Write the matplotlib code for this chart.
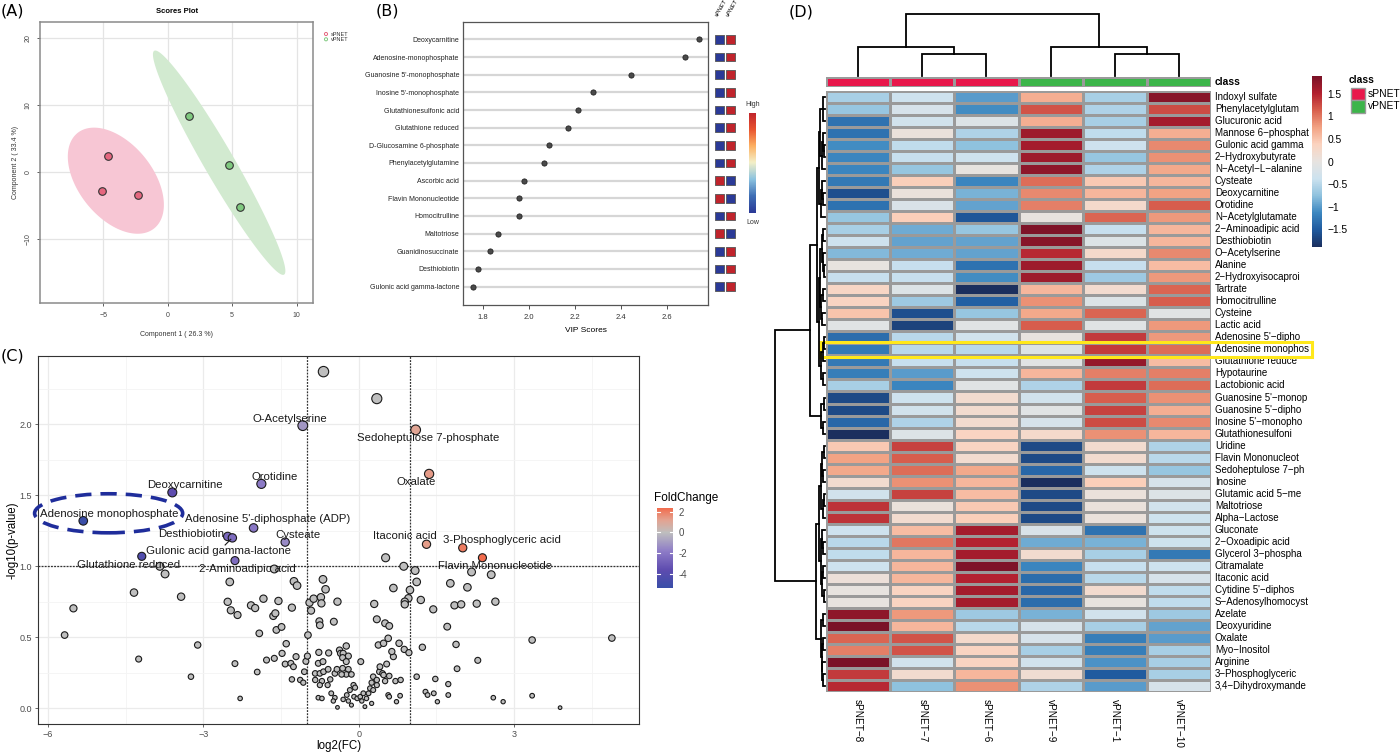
import numpy as np
import matplotlib
matplotlib.use("Agg")
import matplotlib.pyplot as plt
from matplotlib.colors import LinearSegmentedColormap, Normalize, ListedColormap
from matplotlib.patches import Ellipse, Rectangle

plt.rcParams['font.family'] = ['Liberation Sans', 'DejaVu Sans']

# ---------------- Panel A data (PLS-DA scores) ----------------
pca_group = ['sPNET', 'sPNET', 'sPNET', 'vPNET', 'vPNET', 'vPNET']
pca_comp1 = [-4.65, -5.12, -2.28, 1.63, 4.73, 5.63]
pca_comp2 = [2.4, -2.84, -3.5, 8.36, 1.05, -5.3]

# ---------------- Panel B data (VIP scores) ----------------
vip_names = ['Deoxycarnitine', 'Adenosine-monophosphate', "Guanosine 5'-monophosphate",
             "Inosine 5'-monophosphate", 'Glutathionesulfonic acid', 'Glutathione reduced',
             'D-Glucosamine 6-phosphate', 'Phenylacetylglutamine', 'Ascorbic acid',
             'Flavin Mononucleotide', 'Homocitrulline', 'Maltotriose', 'Guanidinosuccinate',
             'Desthiobiotin', 'Gulonic acid gamma-lactone']
vip_scores = [2.74, 2.677, 2.445, 2.28, 2.216, 2.17, 2.09, 2.067, 1.98, 1.96, 1.96,
              1.868, 1.833, 1.78, 1.757]
vip_spnet_high = [0, 0, 0, 0, 0, 0, 0, 0, 1, 1, 0, 1, 0, 0, 0]

# ---------------- Panel C data (volcano) ----------------
sig_names = ['O-Acetylserine', 'Sedoheptulose 7-phosphate', 'Orotidine', 'Oxalate',
             'Deoxycarnitine', 'Adenosine monophosphate', "Adenosine 5'-diphosphate (ADP)",
             'Desthiobiotin', 'Gulonic acid gamma-lactone', 'Cysteate', 'Itaconic acid',
             '3-Phosphoglyceric acid', 'Glutathione reduced', 'Flavin Mononucleotide',
             '2-Aminoadipic acid']
sig_log2fc = [-1.08, 1.10, -1.88, 1.36, -3.60, -5.32, -2.03, -2.53, -2.44, -1.42, 1.31,
              2.01, -4.19, 2.39, -2.39]
sig_logp = [1.99, 1.96, 1.58, 1.65, 1.52, 1.32, 1.27, 1.21, 1.20, 1.17, 1.155, 1.13,
            1.07, 1.06, 1.04]

ns_log2fc = [-0.68, 0.35, 0.52, -3.84, -3.74, -4.34, -3.43, -5.51, -5.68, -4.25, -3.11, -3.24,
             -2.29, -2.39, -1.96, -2.49, -2.53, -2.47, -2.34, -2.08, -2.0, -1.84, -1.92, -1.65,
             -1.61, -1.55, -1.59, -1.49, -1.40, -1.63, -1.78, -1.48, -1.42, -1.31, -1.26, -1.21,
             -1.29, -1.13, -1.07, -1.05, -1.02, -0.99, -0.98, -1.29, -1.25, -1.19, -1.63,
             -0.95, -0.92, -0.87, -0.73, -0.72, -0.69, -0.64, -0.41, -0.76, -0.75, -0.48, -0.77,
             -0.58, -0.78, -0.69, -0.84, -0.75, -0.68, -0.59, -0.84, -0.71, -0.55, -0.46, -0.42,
             -0.75, -0.6, -0.78, -0.71, -0.53, -0.46, -0.49, -0.41,
             -0.37, -0.35, -0.24, -0.30, -0.20, -0.31, -0.24, -0.31, -0.20, -0.24, -0.33, -0.14,
             -0.10, -0.07, -0.17, -0.23, -0.30, -0.20, -0.14, -0.09, -0.03, 0.03, 0.06, 0.12,
             0.15, 0.04, 0.09, 0.19, 0.22, 0.28, 0.25, 0.35, 0.28, 0.35, 0.40, 0.46, 0.41, 0.54,
             0.51, 0.57, 0.71, 0.38, 0.48, 0.57, 0.67, 0.64, 0.35, 0.51, 0.59, 0.30, 0.67, 0.25,
             0.87, 1.09, 1.12, 0.99, 0.96, 0.89, 0.89, 1.20, 1.44, 1.77, 2.10, 2.18, 2.56, 1.85,
             1.98, 2.28, 2.64, 1.71, 0.78, 0.88, 0.97, 1.23, 1.88, 3.35, 4.89, 2.30, 1.90, 0.59,
             0.48, 0.81, 1.12, 1.48, 1.73, 1.29, 1.33, 1.45, 1.73, 1.52, 0.59, 0.80, 0.73, 2.60,
             2.79, 3.35, 3.89]
ns_logp = [2.37, 2.18, 1.06, 1.0, 0.946, 0.815, 0.786, 0.704, 0.516, 0.347, 0.446, 0.223,
           0.07, 0.315, 0.256, 0.89, 0.75, 0.69, 0.657, 0.725, 0.706, 0.772, 0.528, 0.65,
           0.669, 0.756, 0.552, 0.573, 0.455, 0.352, 0.34, 0.387, 0.312, 0.317, 0.293, 0.364,
           0.204, 0.2, 0.181, 0.258, 0.331, 0.368, 0.516, 0.709, 0.894, 0.864, 0.981,
           0.744, 0.688, 0.772, 0.782, 0.739, 0.908, 0.838, 0.751, 0.613, 0.585, 0.61, 0.394,
           0.39, 0.317, 0.329, 0.246, 0.246, 0.258, 0.275, 0.2, 0.192, 0.204, 0.246, 0.275,
           0.164, 0.164, 0.075, 0.07, 0.106, 0.075, 0.052, 0.007,
           0.41, 0.387, 0.439, 0.387, 0.368, 0.357, 0.329, 0.282, 0.275, 0.239, 0.239, 0.239,
           0.164, 0.146, 0.129, 0.094, 0.063, 0.052, 0.023, 0.082, 0.07, 0.082, 0.052, 0.012,
           0.07, 0.329, 0.106, 0.106, 0.141, 0.129, 0.181, 0.164, 0.223, 0.2, 0.258, 0.246,
           0.293, 0.312, 0.192, 0.094, 0.192, 0.446, 0.458, 0.493, 0.364, 0.4, 0.627, 0.599,
           0.58, 0.735, 0.847, 0.035,
           1.0, 0.97, 0.89, 0.833, 0.775, 0.751, 0.732, 0.763, 0.697, 0.88, 0.852, 0.96, 0.941,
           0.725, 0.732, 0.737, 0.751, 0.575, 0.458, 0.415, 0.392, 0.43, 0.45, 0.481, 0.495,
           0.338, 0.279, 0.228, 0.235, 0.2, 0.223, 0.207, 0.171, 0.117, 0.094, 0.106, 0.094,
           0.047, 0.082, 0.089, 0.047, 0.075, 0.047, 0.089, 0.005]

# ---------------- Panel D data (heatmap) ----------------
heat_rows = ['Indoxyl sulfate', 'Phenylacetylglutam', 'Glucuronic acid', 'Mannose 6\u2212phosphat',
             'Gulonic acid gamma', '2\u2212Hydroxybutyrate', 'N\u2212Acetyl\u2212L\u2212alanine', 'Cysteate',
             'Deoxycarnitine', 'Orotidine', 'N\u2212Acetylglutamate', '2\u2212Aminoadipic acid',
             'Desthiobiotin', 'O\u2212Acetylserine', 'Alanine', '2\u2212Hydroxyisocaproi', 'Tartrate',
             'Homocitrulline', 'Cysteine', 'Lactic acid', "Adenosine 5'\u2212dipho",
             'Adenosine monophos', 'Glutathione reduce', 'Hypotaurine', 'Lactobionic acid',
             "Guanosine 5'\u2212monop", "Guanosine 5'\u2212dipho", "Inosine 5'\u2212monopho",
             'Glutathionesulfoni', 'Uridine', 'Flavin Mononucleot', 'Sedoheptulose 7\u2212ph',
             'Inosine', 'Glutamic acid 5\u2212me', 'Maltotriose', 'Alpha\u2212Lactose', 'Gluconate',
             '2\u2212Oxoadipic acid', 'Glycerol 3\u2212phospha', 'Citramalate', 'Itaconic acid',
             "Cytidine 5'\u2212diphos", 'S\u2212Adenosylhomocyst', 'Azelate', 'Deoxyuridine',
             'Oxalate', 'Myo\u2212Inositol', 'Arginine', '3\u2212Phosphoglyceric',
             '3,4\u2212Dihydroxymande']
heat_cols = ['sPNET\u22128', 'sPNET\u22127', 'sPNET\u22126', 'vPNET\u22129', 'vPNET\u22121', 'vPNET\u221210']
heat_class = ['sPNET', 'sPNET', 'sPNET', 'vPNET', 'vPNET', 'vPNET']
sPNET_8 = [-0.6, -0.7, -1.3, -1.3, -1.1,
           -1.15, -1.15, -1.25, -1.6, -1.3,
           -0.7, -0.6, -0.35, -0.8, 0.0,
           -0.4, 0.3, 0.35, 0.5, -0.1,
           -1.35, -1.25, -1.25, -1.2, -0.6,
           -1.65, -1.65, -1.4, -2.0, 0.45,
           0.75, 0.7, 0.2, -0.3, 1.4,
           1.4, -0.35, -0.5, -0.45, -0.35,
           0.1, 0.0, 0.0, 1.75, 1.95,
           1.1, 0.95, 1.95, 1.35, 1.45]
sPNET_7 = [-0.35, -0.25, -0.3, 0.05, -0.45,
           -0.4, -0.7, 0.4, 0.05, -0.2,
           0.4, -0.9, -0.95, -0.9, -0.4,
           -0.4, -0.15, -0.65, -1.6, -1.7,
           -0.5, -0.5, -0.4, -1.0, -1.15,
           -0.35, -0.3, -0.55, -0.15, 1.3,
           1.15, 1.05, 0.85, 1.3, 0.05,
           0.2, 0.55, 1.0, 0.6, 0.6,
           0.6, 0.35, 0.35, 0.8, 0.6,
           1.2, 1.2, -0.3, 0.2, -0.75]
sPNET_6 = [-1.0, -1.1, -0.15, -0.55, -0.75,
           -0.35, 0.0, -1.15, -0.85, -0.95,
           -1.55, -0.7, -0.95, -0.95, -1.3,
           -1.1, -2.0, -1.45, -0.7, -0.1,
           -0.3, -0.5, -0.4, -0.35, -0.1,
           0.2, 0.2, 0.2, 0.35, 0.35,
           0.2, 0.7, 0.6, 0.55, 0.45,
           0.4, 1.6, 1.5, 1.6, 1.85,
           1.5, 1.6, 1.6, -0.65, -0.5,
           0.25, 0.35, 0.35, 0.6, 0.85]
vPNET_9 = [0.65, 1.2, 0.65, 1.65, 1.6,
           1.65, 1.75, 1.05, 0.9, 0.95,
           0.0, 1.85, 1.8, 1.45, 1.65,
           1.65, 0.6, 0.85, 0.7, 1.15,
           0.0, -0.15, -0.1, 0.6, -0.55,
           -0.3, -0.1, -0.25, 0.25, -1.65,
           -1.65, -1.4, -1.95, -1.65, -1.65,
           -1.65, -0.2, -0.9, 0.2, -1.15,
           -1.35, -1.4, -1.35, -0.85, -0.25,
           -0.25, -0.6, -0.3, 0.15, -0.55]
vPNET_1 = [-0.6, -0.55, -0.6, -0.45, -0.35,
           -0.7, -0.55, 0.45, 0.6, 0.25,
           1.1, -0.4, -0.15, 0.25, -0.4,
           -0.65, 0.2, -0.15, 1.1, -0.1,
           1.35, 1.35, 1.7, 0.95, 1.35,
           1.15, 1.3, 1.25, 0.85, 0.2,
           0.2, -0.35, 0.4, 0.05, 0.05,
           0.05, -1.3, -0.85, -0.6, -0.4,
           -0.5, 0.2, 0.0, -0.3, -0.6,
           -1.2, -1.2, -1.05, -1.5, -1.0]
vPNET_10 = [1.8, 1.25, 1.6, 0.65, 0.9,
            0.85, 0.7, 0.6, 0.75, 1.15,
            0.8, 0.6, 0.6, 0.9, 0.55,
            0.8, 1.1, 1.15, -0.1, 0.8,
            0.8, 1.05, 0.55, 0.95, 1.05,
            0.85, 0.65, 0.9, 0.6, -0.55,
            -0.5, -0.7, -0.25, -0.15, -0.3,
            -0.35, -0.35, -0.35, -1.25, -0.35,
            -0.25, -0.45, -0.45, -0.65, -0.95,
            -1.0, -0.6, -0.6, -0.6, -0.25]

# dendrogram structures (leaf index, leaf index, merge height)
col_tree = ((0, (1, 2, 7.0), 9.5), (3, (4, 5, 7.0), 9.5), 20.3)
row_tree = (
    (
        (
            ((((0, 2, 0.5), 1, 0.7), ((3, (4, 5, 0.3), 0.5), 6, 0.7), 1.0),
             ((7, (8, 9, 0.4), 0.6), 10, 0.9), 1.2),
            ((((11, 12, 0.4), (13, (14, 15, 0.3), 0.5), 0.7),
              ((16, 17, 0.5), (18, 19, 0.6), 0.9), 1.1),
             (((20, 21, 0.3), 22, 0.5), (23, 24, 0.5), 0.8), 1.3),
            1.6),
        ((25, 26, 0.3), (27, 28, 0.5), 0.8),
        3.1),
    (
        ((((29, 30, 0.3), (31, 32, 0.5), 0.7), ((33, 34, 0.3), 35, 0.5), 0.9),
         ((36, (37, 38, 0.4), 0.6), ((39, 40, 0.4), (41, 42, 0.3), 0.6), 0.9), 1.3),
        ((43, 44, 0.5), ((45, 46, 0.4), (47, (48, 49, 0.4), 0.6), 0.7), 0.9),
        1.9),
    10.0)

# ======================================================================
W, H = 1400, 754
fig = plt.figure(figsize=(14, 7.54), dpi=100)


def box(l, t, r, b):
    return [l / W, 1 - b / H, (r - l) / W, (b - t) / H]


ov = fig.add_axes([0, 0, 1, 1])
ov.set_xlim(0, W)
ov.set_ylim(H, 0)
ov.axis('off')

for lab, (x, y) in {'(A)': (1, 11), '(B)': (376, 11), '(C)': (1, 356), '(D)': (789, 12)}.items():
    ov.text(x, y, lab, fontsize=11.5, va='center', ha='left', family=['DejaVu Sans'])

# ---------------- Panel A ----------------
axA = fig.add_axes(box(40, 21.7, 313.3, 303.3))
axA.set_xlim(-9.9, 11.3)
axA.set_ylim(-19.6, 22.4)
axA.set_xticks([-5, 0, 5, 10])
axA.set_yticks([-10, 0, 10, 20])
axA.grid(True, color='#E4E4E4', lw=0.9)
axA.set_axisbelow(True)
conf = np.sqrt(-2 * np.log(1 - 0.95))
grp_style = {'sPNET': ('#F7C6D4', '#E5677F'), 'vPNET': ('#D2EAD0', '#7FC97F')}
px = np.array(pca_comp1)
py = np.array(pca_comp2)
pg = np.array(pca_group)
t = np.linspace(0, 2 * np.pi, 200)
for g, (fill, ptc) in grp_style.items():
    m = pg == g
    xs, ys = px[m], py[m]
    cov = np.cov(xs, ys)
    vals, vecs = np.linalg.eigh(cov)
    circ = np.vstack([np.cos(t), np.sin(t)])
    e = vecs @ (np.sqrt(np.maximum(vals, 0))[:, None] * circ) * conf
    axA.fill(e[0] + xs.mean(), e[1] + ys.mean(), color=fill, lw=0, zorder=1)
    axA.scatter(xs, ys, s=30, color=ptc, edgecolor='#333333', lw=0.8, zorder=3)
for s in axA.spines.values():
    s.set_color('#8A8A8A')
    s.set_linewidth(1.1)
axA.tick_params(labelsize=5, colors='#444444', length=2.5, width=0.6)
for lab in axA.get_yticklabels():
    lab.set_rotation(90)
    lab.set_va('center')
axA.set_xlabel('Component 1 ( 26.3 %)', fontsize=5, labelpad=9, color='#333333')
axA.set_ylabel('Component 2 ( 33.4 %)', fontsize=5, labelpad=4, color='#333333')
axA.set_title('Scores Plot', fontsize=5.5, fontweight='bold', pad=6)
for i, (g, c) in enumerate([('sPNET', '#E5677F'), ('vPNET', '#7FC97F')]):
    ov.scatter([326], [34 + 5.3 * i], s=5, facecolor='none', edgecolor=c, lw=0.7)
    ov.text(331, 34 + 5.3 * i, g, fontsize=4, va='center', color='#333333')

# ---------------- Panel B ----------------
nB = len(vip_names)
yB = np.arange(nB)
axB = fig.add_axes(box(463.3, 21.7, 708.3, 305))
axB.set_xlim(1.716, 2.78)
axB.set_ylim(nB - 1 + 1.04, -1.0)
for y in yB:
    axB.axhline(y, color='#D6D6D6', lw=1.6, zorder=0)
axB.scatter(vip_scores, yB, s=14, color='#4A4A4A', edgecolor='#222222', lw=0.6, zorder=3)
axB.set_yticks(yB)
axB.set_yticklabels(vip_names, fontsize=5, color='#222222')
axB.tick_params(axis='y', length=0, pad=3)
axB.set_xticks([1.8, 2.0, 2.2, 2.4, 2.6])
axB.tick_params(axis='x', labelsize=5.5, length=3, width=0.6, colors='#333333')
axB.set_xlabel('VIP Scores', fontsize=6, labelpad=4)
for s in axB.spines.values():
    s.set_color('#555555')
    s.set_linewidth(0.9)

vip_cmap = LinearSegmentedColormap.from_list(
    'vip', ['#2B3A97', '#3F6FB5', '#8CC3E0', '#F4F0C8', '#FDB062', '#E8532F', '#C0242C'])
axBs = fig.add_axes(box(712, 21.7, 738, 305))
axBs.set_xlim(-0.7, 1.7)
axBs.set_ylim(nB - 1 + 1.04, -1.0)
axBs.axis('off')
hi = np.array(vip_spnet_high, dtype=float)
axBs.scatter(np.zeros(nB), yB, marker='s', s=40, c=vip_cmap(hi), edgecolor='#555555', lw=0.6)
axBs.scatter(np.ones(nB), yB, marker='s', s=40, c=vip_cmap(1 - hi), edgecolor='#555555', lw=0.6)
for j, g in enumerate(['sPNET', 'vPNET']):
    axBs.text(j - 0.1, -1.25, g, rotation=60, fontsize=4.3, ha='left', va='bottom',
              rotation_mode='anchor', clip_on=False, style='italic')
axBc = fig.add_axes(box(749.3, 112.7, 756, 213.3))
axBc.imshow(np.linspace(1, 0, 100)[:, None], aspect='auto', cmap=vip_cmap)
axBc.set_xticks([])
axBc.set_yticks([])
for s in axBc.spines.values():
    s.set_visible(False)
ov.text(752.5, 104, 'High', fontsize=5, ha='center', va='center', color='#333333')
ov.text(752.5, 222.5, 'Low', fontsize=5, ha='center', va='center', color='#333333')

# ---------------- Panel C ----------------
axC = fig.add_axes(box(37.7, 356, 639.3, 724))
axC.set_xlim(-6.2, 5.42)
axC.set_ylim(-0.11, 2.48)
axC.set_xticks([-6, -3, 0, 3])
axC.set_yticks([0.0, 0.5, 1.0, 1.5, 2.0])
axC.set_yticklabels(['0.0', '0.5', '1.0', '1.5', '2.0'])
axC.set_xticks([-4.5, -1.5, 1.5, 4.5], minor=True)
axC.set_yticks([0.25, 0.75, 1.25, 1.75, 2.25], minor=True)
axC.grid(True, which='major', color='#EBEBEB', lw=0.9)
axC.grid(True, which='minor', color='#F4F4F4', lw=0.6)
axC.tick_params(which='minor', length=0)
axC.tick_params(which='major', labelsize=6.5, colors='#4D4D4D', length=2.5, width=0.6, pad=1.5)
axC.set_axisbelow(True)
for s in axC.spines.values():
    s.set_color('#333333')
    s.set_linewidth(0.8)
axC.axvline(-1, color='#333333', lw=0.9, ls=(0, (1.5, 1)), zorder=1)
axC.axvline(1, color='#333333', lw=0.9, ls=(0, (1.5, 1)), zorder=1)
axC.axhline(1, color='#333333', lw=0.9, ls=(0, (1.5, 1)), zorder=1)
axC.set_xlabel('log2(FC)', fontsize=8.3, labelpad=1)
axC.set_ylabel('-log10(p-value)', fontsize=8.3, labelpad=1)


def psize(v):
    d = 3.3 + 4.6 * np.sqrt(np.clip(np.asarray(v, dtype=float), 0, None))
    return (d * 0.72) ** 2


fc_lo, fc_hi = min(sig_log2fc), max(sig_log2fc)


def fc_frac(v):
    return (v - fc_lo) / (fc_hi - fc_lo)


fc_cmap = LinearSegmentedColormap.from_list(
    'fc', [(0.0, '#3A4EA8'), (fc_frac(-3.6), '#5E4CAF'), (fc_frac(-1.8), '#8E7CC7'),
           (fc_frac(0.0), '#BEBEBE'), (fc_frac(1.2), '#E3A391'), (1.0, '#F26B4C')])
fc_norm = Normalize(vmin=fc_lo, vmax=fc_hi)
axC.scatter(ns_log2fc, ns_logp, s=psize(ns_logp), color='#BFBFBF', edgecolor='#1A1A1A',
            lw=0.8, zorder=3)
axC.scatter(sig_log2fc, sig_logp, s=psize(sig_logp), c=sig_log2fc, cmap=fc_cmap,
            norm=fc_norm, edgecolor='#1A1A1A', lw=0.8, zorder=4)

label_pos = {
    'O-Acetylserine': (-1.33, 2.04), 'Sedoheptulose 7-phosphate': (1.34, 1.90),
    'Orotidine': (-1.63, 1.63), 'Oxalate': (1.12, 1.59), 'Deoxycarnitine': (-3.35, 1.57),
    'Adenosine monophosphate': (-4.81, 1.37), "Adenosine 5'-diphosphate (ADP)": (-1.76, 1.33),
    'Desthiobiotin': (-3.24, 1.23), 'Gulonic acid gamma-lactone': (-2.71, 1.11),
    'Cysteate': (-1.18, 1.22), 'Itaconic acid': (0.89, 1.21),
    '3-Phosphoglyceric acid': (2.77, 1.185), 'Glutathione reduced': (-4.45, 1.01),
    'Flavin Mononucleotide': (2.63, 1.0), '2-Aminoadipic acid': (-2.15, 0.98)}
for nm, fcv, pv in zip(sig_names, sig_log2fc, sig_logp):
    lx, ly = label_pos[nm]
    axC.text(lx, ly, nm, fontsize=8.2, ha='center', va='center', color='#1A1A1A', zorder=5)
gi = sig_names.index('Gulonic acid gamma-lactone')
axC.plot([-2.58, sig_log2fc[gi] - 0.03], [1.15, sig_logp[gi] - 0.01], color='#1A1A1A',
         lw=0.8, zorder=5)
axC.add_patch(Ellipse((-4.83, 1.373), 2.86, 0.275, fill=False, ec='#1F2D9B', lw=2.6,
                      ls=(0, (4.5, 2.5)), zorder=6, clip_on=False))

axCc = fig.add_axes(box(656.7, 507.7, 673.3, 587.7))
cb = fig.colorbar(plt.cm.ScalarMappable(norm=fc_norm, cmap=fc_cmap), cax=axCc)
cb.outline.set_visible(False)
cb.set_ticks([2, 0, -2, -4])
cb.ax.tick_params(labelsize=7, colors='#4D4D4D', length=0, pad=4)
cb.ax.yaxis.set_major_formatter(matplotlib.ticker.FuncFormatter(lambda v, p: f'{v:g}'))
for v in [2, 0, -2, -4]:
    axCc.plot([0, 0.2], [v, v], color='white', lw=0.8, transform=axCc.get_yaxis_transform())
    axCc.plot([0.8, 1], [v, v], color='white', lw=0.8, transform=axCc.get_yaxis_transform())
ov.text(654, 497.7, 'FoldChange', fontsize=8.5, ha='left', va='center')

# ---------------- Panel D ----------------
heat = np.column_stack([sPNET_8, sPNET_7, sPNET_6, vPNET_9, vPNET_1, vPNET_10])
nR, nCc = heat.shape
hm_cmap = LinearSegmentedColormap.from_list(
    'hm', ['#1B2F5E', '#1F5A9E', '#3C87C0', '#8EC1DE', '#CCE2EF', '#E7E3E0', '#FBD3BF',
           '#F2A283', '#D8604E', '#B2202F', '#7A1227'])
hm_norm = Normalize(-1.89, 1.89)

axD = fig.add_axes(box(826, 91, 1211, 692))
axD.pcolormesh(np.arange(nCc + 1), np.arange(nR + 1), heat, cmap=hm_cmap, norm=hm_norm,
               edgecolors='#9A9A9A', linewidth=1.0)
axD.set_xlim(0, nCc)
axD.set_ylim(nR, 0)
axD.axis('off')
for i, nm in enumerate(heat_rows):
    axD.text(nCc + 0.06, i + 0.5, nm, fontsize=7.0, ha='left', va='center', clip_on=False)
for j, nm in enumerate(heat_cols):
    axD.text(j + 0.5, nR + 0.55, nm, fontsize=7.2, rotation=-90, ha='center', va='top',
             clip_on=False)
hl = heat_rows.index('Adenosine monophos')
axD.add_patch(Rectangle((-0.09, hl - 0.12), 7.67, 1.24, fill=False, ec='#FFE81A', lw=2.2,
                        clip_on=False, zorder=10))

axDa = fig.add_axes(box(826, 76.7, 1211, 87.3))
cls_code = np.array([[0 if c == 'sPNET' else 1 for c in heat_class]])
axDa.pcolormesh(np.arange(nCc + 1), [0, 1], cls_code,
                cmap=ListedColormap(['#E8174B', '#3CB54A']), vmin=0, vmax=1,
                edgecolors='#9A9A9A', linewidth=1.0)
axDa.set_xlim(0, nCc)
axDa.set_ylim(1, 0)
axDa.axis('off')
axDa.text(nCc + 0.06, 0.5, 'class', fontsize=7.4, fontweight='bold', ha='left', va='center',
          clip_on=False)


def draw_tree(ax, node, orient):
    if isinstance(node, int):
        return node + 0.5, 0.0
    a, b, h = node
    pa, ha_ = draw_tree(ax, a, orient)
    pb, hb = draw_tree(ax, b, orient)
    if orient == 'top':
        ax.plot([pa, pa, pb, pb], [ha_, h, h, hb], color='black', lw=1.3,
                solid_joinstyle='miter', clip_on=False)
    else:
        ax.plot([ha_, h, h, hb], [pa, pa, pb, pb], color='black', lw=1.3,
                solid_joinstyle='miter', clip_on=False)
    return (pa + pb) / 2, h


axDt = fig.add_axes(box(826, 13, 1211, 75.5))
axDt.set_xlim(0, nCc)
axDt.set_ylim(0, 20.6)
axDt.axis('off')
draw_tree(axDt, col_tree, 'top')

axDl = fig.add_axes(box(774, 91, 825, 692))
axDl.set_ylim(nR, 0)
axDl.set_xlim(10.25, 0)
axDl.axis('off')
draw_tree(axDl, row_tree, 'left')

axDc = fig.add_axes(box(1312, 76, 1322, 247))
cbD = fig.colorbar(plt.cm.ScalarMappable(norm=hm_norm, cmap=hm_cmap), cax=axDc)
cbD.outline.set_visible(False)
cbD.set_ticks([1.5, 1, 0.5, 0, -0.5, -1, -1.5])
cbD.ax.yaxis.set_major_formatter(matplotlib.ticker.FuncFormatter(
    lambda v, p: f'{v:g}'.replace('-', '\u2212')))
cbD.ax.tick_params(labelsize=7.4, length=0, pad=4)

ov.text(1349, 80, 'class', fontsize=7.4, fontweight='bold', ha='left', va='center')
for i, (g, c) in enumerate([('sPNET', '#E8174B'), ('vPNET', '#3CB54A')]):
    ov.add_patch(Rectangle((1351, 87.5 + 12.6 * i), 14, 12.6, fc=c, ec='#9A9A9A', lw=1.0))
    ov.text(1368, 93.8 + 12.6 * i, g, fontsize=7.4, ha='left', va='center')

fig.savefig('out.png', dpi=100)
